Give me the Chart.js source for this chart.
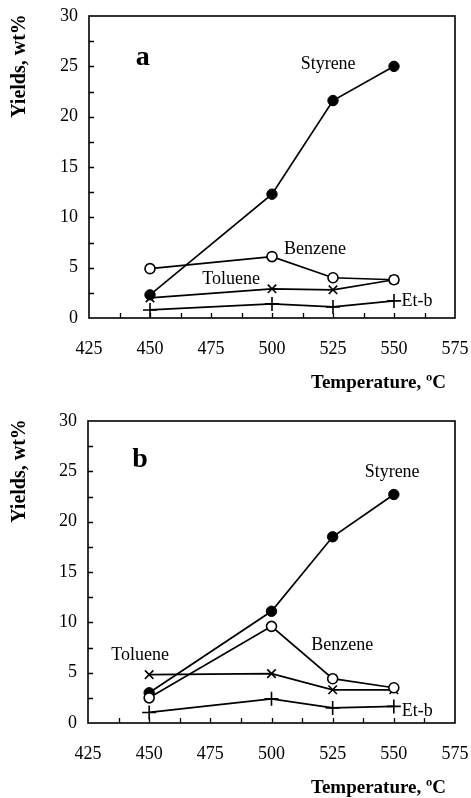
<!DOCTYPE html>
<html>
<head>
<meta charset="utf-8">
<script src="https://cdn.jsdelivr.net/npm/chart.js@4.4.1/dist/chart.umd.min.js"></script>
<style>
  body { margin: 0; background: #fff; }
  .panel { position: absolute; left: 0; width: 471px; height: 399px; }
</style>
</head>
<body>
<div class="panel" style="top:0"><canvas id="chartA" width="471" height="399"></canvas></div>
<div class="panel" style="top:399px"><canvas id="chartB" width="471" height="399"></canvas></div>
<script>
// temperatures (ºC)
const temps = [450, 500, 525, 550];

// panel a
const styreneA = [2.3, 12.3, 21.6, 25.0];
const benzeneA = [4.9, 6.1, 4.0, 3.8];
const tolueneA = [2.0, 2.9, 2.8, 3.8];
const etbA = [0.8, 1.4, 1.1, 1.7];

// panel b
const styreneB = [3.0, 11.1, 18.5, 22.7];
const benzeneB = [2.5, 9.6, 4.4, 3.5];
const tolueneB = [4.8, 4.9, 3.3, 3.3];
const etbB = [1.05, 2.4, 1.5, 1.65];

const xTicks = [425, 450, 475, 500, 525, 550, 575];
const yTicks = [0, 5, 10, 15, 20, 25, 30];

const serif = '"Liberation Serif", "Times New Roman", serif';

function pts(ys) {
    return temps.map((t, i) => ({ x: t, y: ys[i] }));
}

// box, inward ticks, labels and axis titles
const decorPlugin = {
    id: 'decor',
    afterDraw(chart, args, opts) {
        const ctx = chart.ctx;
        const a = chart.chartArea;
        const xs = chart.scales.x, ys = chart.scales.y;
        ctx.save();
        ctx.strokeStyle = '#000';
        ctx.lineWidth = 1.6;
        ctx.strokeRect(a.left, a.top, a.right - a.left, a.bottom - a.top);

        ctx.lineWidth = 1.3;
        ctx.beginPath();
        for (let v = 437.5; v < 575; v += 12.5) {
            const px = Math.round(xs.getPixelForValue(v)) + 0.5;
            ctx.moveTo(px, a.bottom);
            ctx.lineTo(px, a.bottom - 5);
        }
        for (let v = 2.5; v < 30; v += 2.5) {
            const py = Math.round(ys.getPixelForValue(v)) + 0.5;
            ctx.moveTo(a.left, py);
            ctx.lineTo(a.left + 5, py);
        }
        ctx.stroke();

        ctx.fillStyle = '#000';
        ctx.textAlign = 'center';
        ctx.textBaseline = 'middle';
        opts.labels.forEach(l => {
            ctx.font = (l.bold ? 'bold ' : '') + l.size + 'px ' + serif;
            ctx.fillText(l.text, xs.getPixelForValue(l.x), ys.getPixelForValue(l.y));
        });

        ctx.font = 'bold 19px ' + serif;
        ctx.textAlign = 'right';
        ctx.fillText('Temperature, ºC', 446, opts.xTitleY);

        ctx.font = 'bold 20px ' + serif;
        ctx.translate(20, opts.yTitleY);
        ctx.rotate(-Math.PI / 2);
        ctx.textAlign = 'center';
        ctx.fillText('Yields, wt%', 0, 0);
        ctx.restore();
    }
};

function makeChart(id, series, box, labels, titles) {
    const [sty, ben, tol, etb] = series;
    return new Chart(document.getElementById(id).getContext('2d'), {
        type: 'line',
        data: {
            datasets: [
                {
                    label: 'Benzene', data: pts(ben), order: 0,
                    pointStyle: 'circle', pointRadius: 5,
                    pointBackgroundColor: '#fff', pointBorderColor: '#000', pointBorderWidth: 1.6
                },
                {
                    label: 'Styrene', data: pts(sty), order: 1,
                    pointStyle: 'circle', pointRadius: 5.2,
                    pointBackgroundColor: '#000', pointBorderColor: '#000', pointBorderWidth: 1
                },
                {
                    label: 'Toluene', data: pts(tol), order: 2,
                    pointStyle: 'crossRot', pointRadius: 6,
                    pointBorderColor: '#000', pointBorderWidth: 1.6
                },
                {
                    label: 'Et-b', data: pts(etb), order: 3,
                    pointStyle: 'cross', pointRadius: 7,
                    pointBorderColor: '#000', pointBorderWidth: 1.6
                }
            ]
        },
        options: {
            responsive: false,
            animation: false,
            elements: {
                line: { borderColor: '#000', borderWidth: 1.7, tension: 0, fill: false }
            },
            layout: { padding: { left: 0, top: box.top, right: 471 - box.right, bottom: 0 } },
            plugins: {
                legend: { display: false },
                tooltip: { enabled: false },
                decor: { labels: labels, xTitleY: titles.x, yTitleY: titles.y }
            },
            scales: {
                x: {
                    type: 'linear', min: 425, max: 575,
                    afterBuildTicks: s => { s.ticks = xTicks.map(v => ({ value: v })); },
                    afterFit: s => { s.height = 399 - box.bottom; s.paddingLeft = 0; s.paddingRight = 0; },
                    grid: { display: false, drawTicks: false },
                    border: { display: false },
                    ticks: { padding: 20, color: '#000', maxRotation: 0, font: { family: serif, size: 18 } }
                },
                y: {
                    min: 0, max: 30,
                    afterBuildTicks: s => { s.ticks = yTicks.map(v => ({ value: v })); },
                    afterFit: s => { s.width = box.left; s.paddingTop = 0; s.paddingBottom = 0; },
                    grid: { display: false, drawTicks: false },
                    border: { display: false },
                    ticks: { padding: 11, color: '#000', font: { family: serif, size: 18 } }
                }
            }
        },
        plugins: [decorPlugin]
    });
}

makeChart('chartA', [styreneA, benzeneA, tolueneA, etbA],
    { left: 89, right: 455, top: 16, bottom: 318 },
    [
        { text: 'a', x: 447, y: 25.9, bold: true, size: 28 },
        { text: 'Styrene', x: 523, y: 25.2, size: 18 },
        { text: 'Benzene', x: 517.6, y: 6.85, size: 18 },
        { text: 'Toluene', x: 483.2, y: 3.87, size: 18 },
        { text: 'Et-b', x: 559.4, y: 1.7, size: 18 }
    ],
    { x: 383, y: 66 });

makeChart('chartB', [styreneB, benzeneB, tolueneB, etbB],
    { left: 88, right: 455, top: 22, bottom: 324 },
    [
        { text: 'b', x: 446.3, y: 26.1, bold: true, size: 28 },
        { text: 'Styrene', x: 549.3, y: 24.9, size: 18 },
        { text: 'Benzene', x: 528.9, y: 7.75, size: 18 },
        { text: 'Toluene', x: 446.3, y: 6.75, size: 18 },
        { text: 'Et-b', x: 559.6, y: 1.2, size: 18 }
    ],
    { x: 389, y: 72 });
</script>
</body>
</html>
